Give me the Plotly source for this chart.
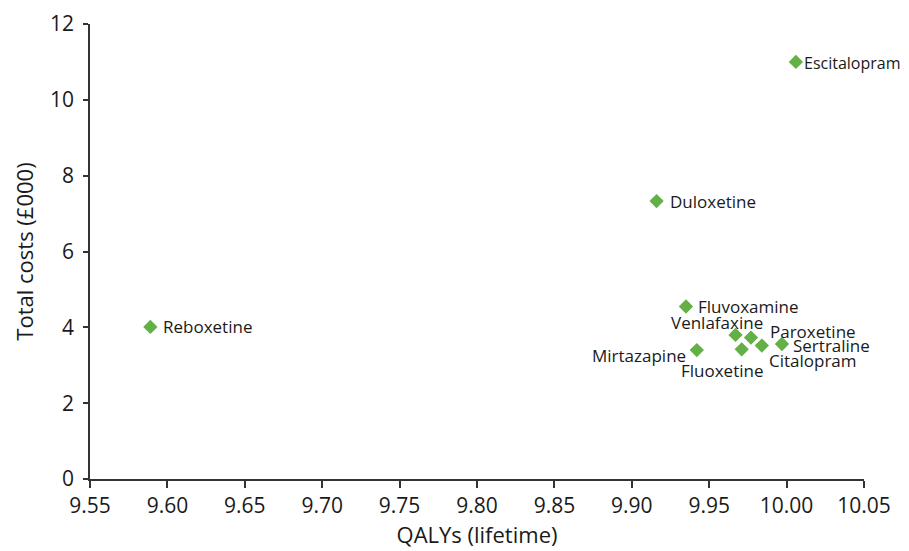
import plotly.graph_objects as go

drugs = ["Reboxetine", "Duloxetine", "Escitalopram", "Fluvoxamine", "Venlafaxine",
         "Paroxetine", "Fluoxetine", "Citalopram", "Sertraline", "Mirtazapine"]
qalys = [9.589, 9.916, 10.006, 9.935, 9.967, 9.977, 9.971, 9.984, 9.997, 9.942]
costs = [4.01, 7.33, 11.0, 4.55, 3.80, 3.73, 3.42, 3.52, 3.56, 3.40]

# label placement: (xanchor, yanchor, xshift, yshift, size)
label_pos = {
    "Reboxetine": ("left", "middle", 11, 0, 17),
    "Duloxetine": ("left", "middle", 11, 0, 17),
    "Escitalopram": ("left", "middle", 6, -1, 16),
    "Fluvoxamine": ("left", "middle", 10, 0, 17),
    "Venlafaxine": ("center", "middle", -19, 12, 17),
    "Paroxetine": ("left", "middle", 17, 6, 17),
    "Fluoxetine": ("center", "middle", -19, -21, 17),
    "Citalopram": ("left", "middle", 5, -15, 17),
    "Sertraline": ("left", "middle", 9, -1, 17),
    "Mirtazapine": ("right", "middle", -9, -5, 17),
}

FONT = "Open Sans"
TXT = "#1a1a1a"
fig = go.Figure()
fig.add_trace(go.Scatter(
    x=qalys, y=costs, mode="markers",
    marker=dict(symbol="diamond", size=11, color="#62B046"),
    hoverinfo="text", text=drugs, showlegend=False,
))

for name, xv, yv in zip(drugs, qalys, costs):
    xa, ya, xs, ys, fs = label_pos[name]
    fig.add_annotation(x=xv, y=yv, text=name, showarrow=False,
                       xanchor=xa, yanchor=ya, xshift=xs, yshift=ys,
                       font=dict(family=FONT, size=fs, color=TXT))

axis_common = dict(showgrid=False, zeroline=False, showline=True,
                   linecolor="#333333", linewidth=1.5, ticks="outside",
                   tickcolor="#333333", tickwidth=1.5, automargin=False,
                   tickfont=dict(family=FONT, size=21, color=TXT))

fig.update_xaxes(range=[9.55, 10.05], tickvals=[9.55 + 0.05 * i for i in range(11)],
                 ticktext=["9.55", "9.60", "9.65", "9.70", "9.75", "9.80", "9.85",
                           "9.90", "9.95", "10.00", "10.05"],
                 ticklen=7, title=dict(text="QALYs (lifetime)", standoff=8,
                                       font=dict(family=FONT, size=22, color=TXT)),
                 **axis_common)
fig.update_yaxes(range=[0, 12], tickvals=[0, 2, 4, 6, 8, 10, 12], ticklen=5,
                 ticklabelstandoff=5,
                 title=dict(text="Total costs (£000)", standoff=10,
                            font=dict(family=FONT, size=22, color=TXT)),
                 **axis_common)

fig.update_layout(width=901, height=543, plot_bgcolor="white", paper_bgcolor="white",
                  margin=dict(l=82, r=45, t=16, b=72))
fig.write_html("out.html")
